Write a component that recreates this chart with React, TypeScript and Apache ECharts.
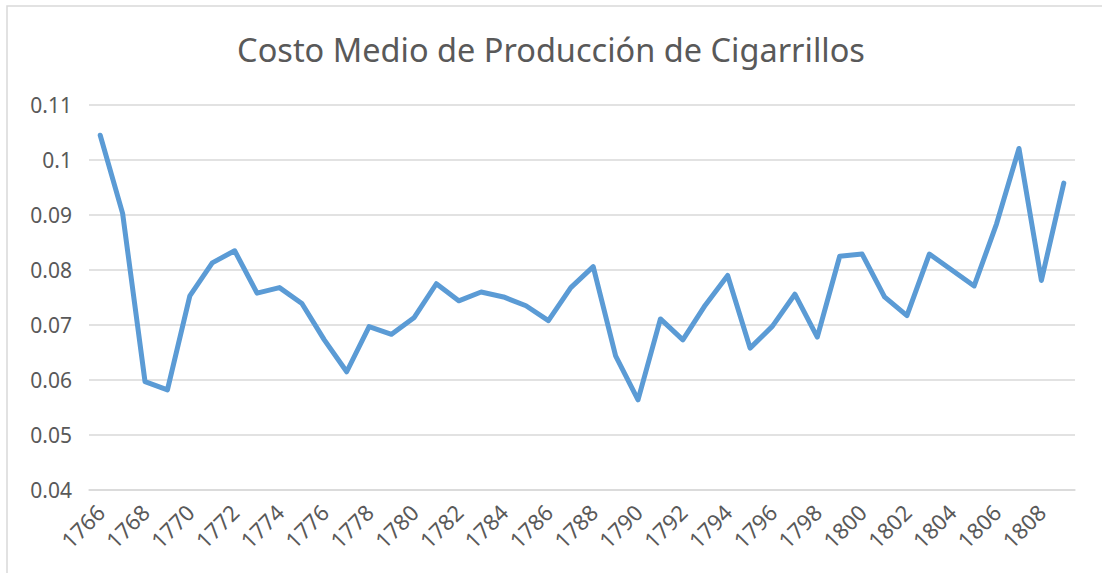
import React, { useEffect, useRef } from "react";
import * as echarts from "echarts";

const years: string[] = [
  "1766", "1767", "1768", "1769", "1770", "1771", "1772", "1773", "1774", "1775",
  "1776", "1777", "1778", "1779", "1780", "1781", "1782", "1783", "1784", "1785",
  "1786", "1787", "1788", "1789", "1790", "1791", "1792", "1793", "1794", "1795",
  "1796", "1797", "1798", "1799", "1800", "1801", "1802", "1803", "1804", "1805",
  "1806", "1807", "1808", "1809",
];

const costoMedio: number[] = [
  0.1045, 0.0903, 0.0597, 0.0582, 0.0753, 0.0813, 0.0835, 0.0758, 0.0768, 0.0739,
  0.0673, 0.0615, 0.0697, 0.0683, 0.0713, 0.0775, 0.0744, 0.076, 0.0751, 0.0735,
  0.0708, 0.0768, 0.0806, 0.0644, 0.0564, 0.0711, 0.0673, 0.0736, 0.079, 0.0658,
  0.0698, 0.0756, 0.0678, 0.0825, 0.0829, 0.0751, 0.0717, 0.0829, 0.08, 0.0771,
  0.0884, 0.1021, 0.0781, 0.0958,
];

const titleText = "Costo Medio de Producción de Cigarrillos";
const yMin = 0.04;
const yMax = 0.11;
const yStep = 0.01;

export default function App() {
  const ref = useRef<HTMLDivElement>(null);
  useEffect(() => {
    if (!ref.current) return;
    const chart = echarts.init(ref.current, undefined, { renderer: "svg" });
    chart.setOption({
      animation: false,
      backgroundColor: "#ffffff",
      title: {
        text: titleText,
        left: "center",
        top: 28,
        textStyle: {
          fontFamily: "Noto Sans",
          fontSize: 32.5,
          fontWeight: "normal",
          color: "#595959",
        },
      },
      graphic: [
        {
          type: "rect",
          shape: { x: 7, y: 6, width: 1110, height: 590 },
          style: { fill: "none", stroke: "#d9d9d9", lineWidth: 1.5 },
          silent: true,
        },
      ],
      grid: { left: 89, right: 27, top: 105, bottom: 83, containLabel: false },
      xAxis: {
        type: "category",
        data: years,
        boundaryGap: true,
        axisLine: { show: true, lineStyle: { color: "#d9d9d9", width: 1.5 } },
        axisTick: { show: false },
        axisLabel: {
          interval: 1,
          rotate: 45,
          margin: 18,
          color: "#595959",
          fontFamily: "Noto Sans",
          fontSize: 22,
        },
        splitLine: { show: false },
      },
      yAxis: {
        type: "value",
        min: yMin,
        max: yMax,
        interval: yStep,
        axisLine: { show: false },
        axisTick: { show: false },
        axisLabel: {
          margin: 17,
          color: "#595959",
          fontFamily: "Noto Sans",
          fontSize: 21,
          formatter: (v: number) => String(+v.toFixed(2)),
        },
        splitLine: { lineStyle: { color: "#d9d9d9", width: 1.5 } },
      },
      series: [
        {
          type: "line",
          data: costoMedio,
          showSymbol: false,
          symbol: "none",
          lineStyle: { color: "#5b9bd5", width: 5, join: "round", cap: "round" },
          itemStyle: { color: "#5b9bd5" },
        },
      ],
    });
    return () => chart.dispose();
  }, []);
  return (
    <div
      ref={ref}
      style={{ position: "fixed", left: 0, top: 0, width: 1102, height: 573 }}
    />
  );
}
